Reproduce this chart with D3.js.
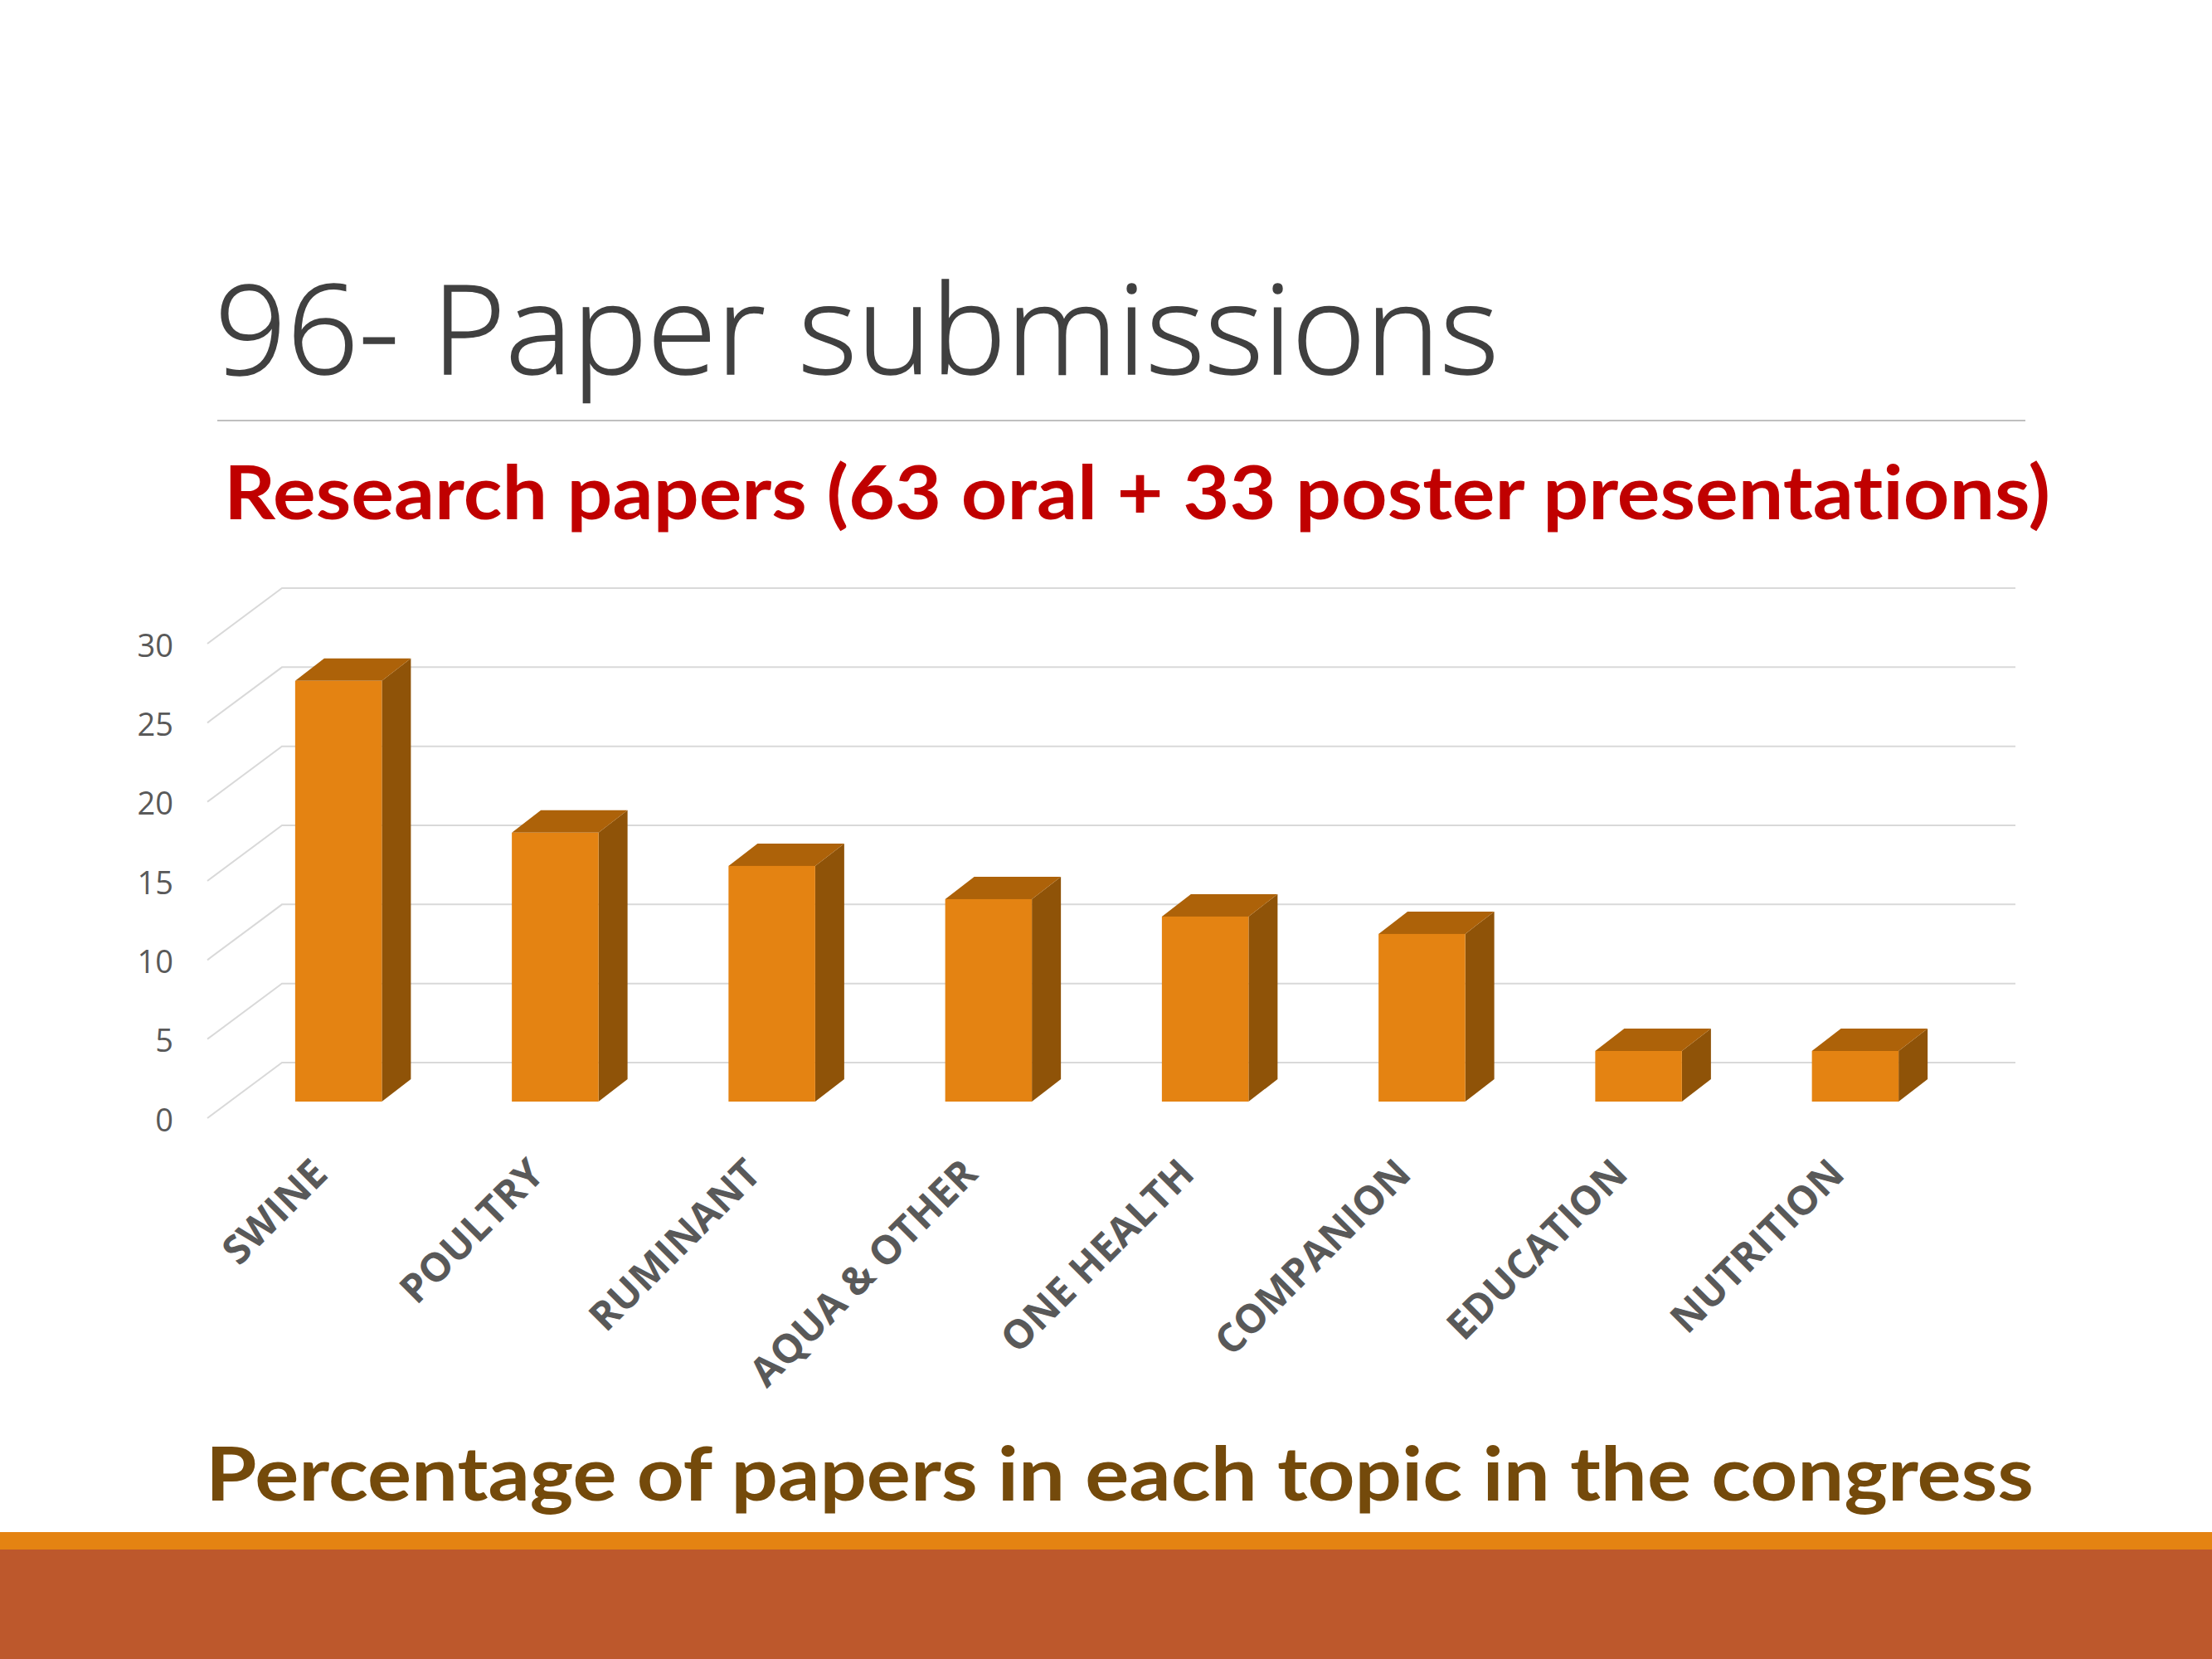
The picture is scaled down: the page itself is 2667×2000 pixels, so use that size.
<!DOCTYPE html>
<html><head><meta charset="utf-8">
<script src="https://cdn.jsdelivr.net/npm/d3@7"></script>
<style>html,body{margin:0;padding:0;background:#fff}svg{display:block}text{font-variant-ligatures:none}</style>
</head><body><svg id="c" width="2667" height="2000"></svg>
<script>
const categories=["SWINE","POULTRY","RUMINANT","AQUA & OTHER","ONE HEALTH","COMPANION","EDUCATION","NUTRITION"];
const values=[26.6,17,14.9,12.8,11.7,10.6,3.2,3.2];
const tickValues=[0,5,10,15,20,25,30];
const titleText="96- Paper submissions";
const subtitleText="Research papers (63 oral + 33 poster presentations)";
const captionText="Percentage of papers in each topic in the congress";

const svg=d3.select("#c");
const depth={dx:90,dy:-67}, barDepth={dx:35,dy:-27};
const x=d3.scaleBand().domain(categories).range([250,2340]).paddingInner(0.6).paddingOuter(0.3);
const y=d3.scaleLinear().domain([0,30]).range([1348,776]);
const rightEnd=2430;

svg.append("rect").attr("width",2667).attr("height",2000).attr("fill","#fff");
// footer
svg.append("rect").attr("x",0).attr("y",1847).attr("width",2667).attr("height",21).attr("fill","#E48312");
svg.append("rect").attr("x",0).attr("y",1868).attr("width",2667).attr("height",132).attr("fill","#BD582C");
// title
svg.append("text").attr("x",259).attr("y",451).text(titleText)
  .attr("font-family","'Open Sans'").attr("font-weight",300).attr("font-size",150).attr("fill","#404040")
  .attr("stroke","#404040").attr("stroke-width",1.5)
  .attr("textLength",1548).attr("lengthAdjust","spacingAndGlyphs");
svg.append("line").attr("x1",262).attr("x2",2442).attr("y1",507).attr("y2",507).attr("stroke","#BFBFBF").attr("stroke-width",2);
svg.append("text").attr("x",270).attr("y",626).text(subtitleText)
  .attr("font-family","Lato").attr("font-weight",700).attr("font-size",90).attr("fill","#C00000")
  .attr("textLength",2202).attr("lengthAdjust","spacingAndGlyphs");
svg.append("text").attr("x",248).attr("y",1809).text(captionText)
  .attr("font-family","Lato").attr("font-weight",700).attr("font-size",90).attr("fill","#744A0B")
  .attr("textLength",2204).attr("lengthAdjust","spacingAndGlyphs");

// gridlines (side wall + back wall)
svg.append("g").selectAll("polyline").data(tickValues).join("polyline")
  .attr("points",d=>[[x.range()[0],y(d)],[x.range()[0]+depth.dx,y(d)+depth.dy],[rightEnd,y(d)+depth.dy]].join(" "))
  .attr("fill","none").attr("stroke","#D9D9D9").attr("stroke-width",2);

// bars
const ox=(depth.dx-barDepth.dx)/2, oy=(depth.dy-barDepth.dy)/2;
const bars=svg.append("g").selectAll("g").data(categories.map((c,i)=>({c,v:values[i]}))).join("g")
  .attr("transform",`translate(${ox},${oy})`);
bars.append("path").attr("fill","#8F5308").attr("d",d=>{
  const r=x(d.c)+x.bandwidth(),t=y(d.v),b=y(0);
  return `M${r},${t}L${r+barDepth.dx},${t+barDepth.dy}L${r+barDepth.dx},${b+barDepth.dy}L${r},${b}Z`;});
bars.append("path").attr("fill","#AD6209").attr("d",d=>{
  const l=x(d.c),r=l+x.bandwidth(),t=y(d.v);
  return `M${l},${t}L${l+barDepth.dx},${t+barDepth.dy}L${r+barDepth.dx},${t+barDepth.dy}L${r},${t}Z`;});
bars.append("rect").attr("fill","#E48312").attr("x",d=>x(d.c)).attr("width",x.bandwidth())
  .attr("y",d=>y(d.v)).attr("height",d=>y(0)-y(d.v));

// axes
const ya=svg.append("g").attr("transform",`translate(${x.range()[0]},3)`)
  .call(d3.axisLeft(y).tickValues(tickValues).tickSize(0).tickPadding(41));
ya.select(".domain").remove();
ya.selectAll("text").attr("font-family","'Open Sans'").attr("font-size",38).attr("fill","#595959");

const xa=svg.append("g").attr("transform","translate(0,1406)")
  .call(d3.axisBottom(x).tickSize(0).tickPadding(0));
xa.select(".domain").remove();
xa.selectAll("text").attr("font-family","'Open Sans'").attr("font-weight",700).attr("font-size",48).attr("fill","#595959")
  .attr("text-anchor","end").attr("dy","0.35em")
  .attr("transform","translate(5,0) rotate(-45)");
</script></body></html>
